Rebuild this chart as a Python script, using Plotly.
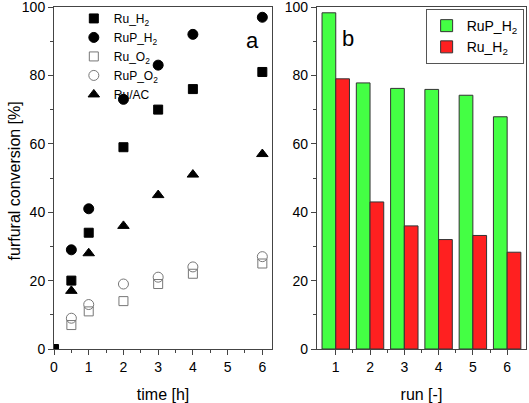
import plotly.graph_objects as go

time_h = [0.5, 1, 2, 3, 4, 6]
ru_h2 = [20, 34, 59, 70, 76, 81]
rup_h2 = [29, 41, 73, 83, 92, 97]
ru_o2 = [7, 11, 14, 19, 22, 25]
rup_o2 = [9, 13, 19, 21, 24, 27]
ru_ac = [17, 28, 36, 45, 51, 57]

runs = [1, 2, 3, 4, 5, 6]
run_rup_h2 = [98.3, 77.8, 76.2, 75.9, 74.2, 67.9]
run_ru_h2 = [79.0, 43.0, 36.0, 32.0, 33.2, 28.3]

FONT = "Liberation Sans, Arial, sans-serif"
AX = "#444444"

fig = go.Figure()

def sc(x, y, name, symbol, color, size):
    fig.add_trace(go.Scatter(
        x=x, y=y, mode="markers", name=name, xaxis="x", yaxis="y",
        marker=dict(symbol=symbol, size=size, color=color,
                    line=dict(color=color, width=1)),
        legend="legend", cliponaxis=True))

sc([0] + time_h, [0] + ru_h2, "Ru_H<sub>2</sub>", "square", "black", 9)
sc(time_h, rup_h2, "RuP_H<sub>2</sub>", "circle", "black", 10)
sc(time_h, ru_o2, "Ru_O<sub>2</sub>", "square-open", "#777777", 9)
sc(time_h, rup_o2, "RuP_O<sub>2</sub>", "circle-open", "#777777", 10)
sc(time_h, ru_ac, "Ru/AC", "triangle-up", "black", 10)

fig.add_trace(go.Bar(x=runs, y=run_rup_h2, name="RuP_H<sub>2</sub>",
                     xaxis="x2", yaxis="y2", legend="legend2",
                     marker=dict(color="#44ff44", line=dict(color="#333333", width=1))))
fig.add_trace(go.Bar(x=runs, y=run_ru_h2, name="Ru_H<sub>2</sub>",
                     xaxis="x2", yaxis="y2", legend="legend2",
                     marker=dict(color="#ff2020", line=dict(color="#333333", width=1))))

common = dict(showline=True, linecolor=AX, linewidth=1, mirror=True,
              ticks="outside", ticklen=5, tickcolor=AX, showgrid=False,
              zeroline=False, automargin=False, ticklabeloverflow="allow",
              tickfont=dict(size=14, family=FONT, color="black"))

fig.update_layout(
    width=529, height=403,
    margin=dict(l=54, r=3, t=7, b=54, autoexpand=False),
    paper_bgcolor="white", plot_bgcolor="white",
    font=dict(family=FONT, color="black"),
    barmode="group", bargap=0.2, bargroupgap=0,
    xaxis=dict(domain=[0, 0.462], range=[0, 6.28], tickvals=[0, 1, 2, 3, 4, 5, 6],
               minor=dict(ticks="outside", ticklen=3, tickcolor=AX, dtick=0.5, tick0=0),
               title=dict(text="time [h]", font=dict(size=16, family=FONT), standoff=16),
               **common),
    yaxis=dict(domain=[0, 1], range=[0, 100], tickvals=[0, 20, 40, 60, 80, 100],
               minor=dict(ticks="outside", ticklen=3, tickcolor=AX, dtick=10, tick0=0),
               **common),
    xaxis2=dict(domain=[0.557, 1.0], range=[0.45, 6.55], tickvals=runs, anchor="y2",
                minor=dict(ticks="outside", ticklen=3, tickcolor=AX, tickvals=[1.5, 2.5, 3.5, 4.5, 5.5]),
                title=dict(text="run [-]", font=dict(size=16, family=FONT), standoff=16),
                **common),
    yaxis2=dict(domain=[0, 1], range=[0, 100], tickvals=[0, 20, 40, 60, 80, 100], anchor="x2",
                minor=dict(ticks="outside", ticklen=3, tickcolor=AX, dtick=10, tick0=0),
                **common),
    legend=dict(x=0.042, y=1.009, xanchor="left", yanchor="top",
                bgcolor="rgba(0,0,0,0)", borderwidth=0, tracegroupgap=0,
                font=dict(size=12, family=FONT), itemwidth=30),
    legend2=dict(x=0.995, y=0.994, xanchor="right", yanchor="top",
                 bgcolor="white", bordercolor="#555555", borderwidth=1,
                 font=dict(size=14, family=FONT), itemwidth=30),
    annotations=[
        dict(text="furfural conversion [%]", x=-0.0847, y=0.49, xref="paper", yref="paper",
             showarrow=False, textangle=-90, xanchor="center", yanchor="middle",
             font=dict(size=16, family=FONT)),
        dict(text="a", x=0.4216, y=0.9035, xref="paper", yref="paper", showarrow=False,
             xanchor="center", yanchor="middle", font=dict(size=22, family=FONT)),
        dict(text="b", x=0.623, y=0.909, xref="paper", yref="paper", showarrow=False,
             xanchor="center", yanchor="middle", font=dict(size=22, family=FONT)),
    ],
)

fig.write_html("out.html", config={"displayModeBar": False},
               post_script="document.body.style.margin='0';")
